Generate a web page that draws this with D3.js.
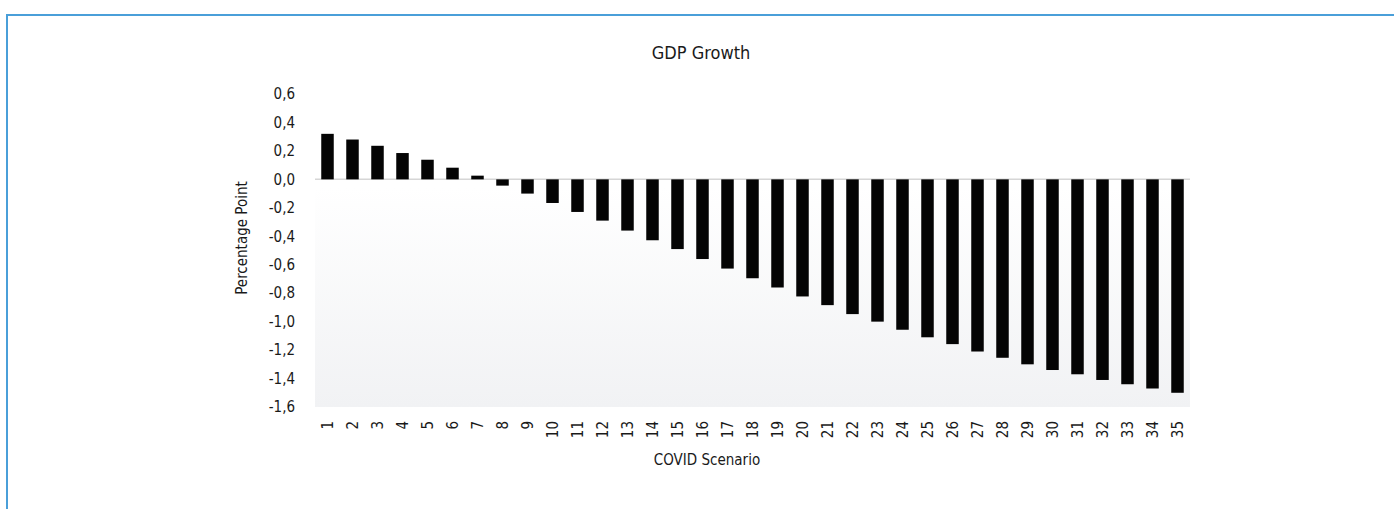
<!DOCTYPE html>
<html>
<head>
<meta charset="utf-8">
<script src="https://cdn.jsdelivr.net/npm/d3@7"></script>
<style>
  body { margin: 0; background: #fff; }
  svg text { font-family: "Liberation Sans Narrow", "DejaVu Sans Condensed", "Arial Narrow", sans-serif; fill: #1a1a1a; }
</style>
</head>
<body>
<div id="chart"></div>
<script>
// chart data
var scenarios = d3.range(1, 36).map(String);
var gdpGrowth = [0.32, 0.28, 0.236, 0.185, 0.138, 0.082, 0.026, -0.044, -0.10, -0.166,
  -0.229, -0.29, -0.36, -0.428, -0.49, -0.56, -0.627, -0.695, -0.76, -0.823,
  -0.884, -0.947, -1.0, -1.057, -1.11, -1.158, -1.21, -1.254, -1.30, -1.34,
  -1.37, -1.41, -1.44, -1.47, -1.50];
var yTicks = [0.6, 0.4, 0.2, 0.0, -0.2, -0.4, -0.6, -0.8, -1.0, -1.2, -1.4, -1.6];

var svgWidth = 1394;
var svgHeight = 509;

var margin = {
  top: 94,
  right: 204,
  bottom: 102,
  left: 315
};

var width = svgWidth - margin.left - margin.right;
var height = svgHeight - margin.top - margin.bottom;

var svg = d3.select("#chart")
  .append("svg")
  .attr("width", svgWidth)
  .attr("height", svgHeight);

// blue frame around the figure
svg.append("rect")
  .attr("x", 7)
  .attr("y", 15)
  .attr("width", svgWidth + 20)
  .attr("height", svgHeight + 20)
  .attr("fill", "none")
  .attr("stroke", "#4a9fd9")
  .attr("stroke-width", 2);

// plot background gradient
var defs = svg.append("defs");
var grad = defs.append("linearGradient")
  .attr("id", "plotBg")
  .attr("x1", 0).attr("y1", 0)
  .attr("x2", 0).attr("y2", 1);
grad.append("stop").attr("offset", "0%").attr("stop-color", "#ffffff");
grad.append("stop").attr("offset", "30%").attr("stop-color", "#ffffff");
grad.append("stop").attr("offset", "100%").attr("stop-color", "#f1f2f4");

var chartGroup = svg.append("g")
  .attr("transform", `translate(${margin.left}, ${margin.top})`);

var xScale = d3.scaleBand()
  .domain(scenarios)
  .range([0, width])
  .paddingInner(0.5)
  .paddingOuter(0.25);

var yScale = d3.scaleLinear()
  .domain([-1.6, 0.6])
  .range([height, 0]);

chartGroup.append("rect")
  .attr("x", 0)
  .attr("y", 0)
  .attr("width", width)
  .attr("height", height)
  .attr("fill", "url(#plotBg)");

// zero line
chartGroup.append("line")
  .attr("x1", 0)
  .attr("x2", width)
  .attr("y1", yScale(0))
  .attr("y2", yScale(0))
  .attr("stroke", "#d6d6d6")
  .attr("stroke-width", 1.5);

// bars
chartGroup.selectAll(".bar")
  .data(gdpGrowth)
  .enter()
  .append("rect")
  .attr("class", "bar")
  .attr("x", (d, i) => xScale(scenarios[i]))
  .attr("width", xScale.bandwidth())
  .attr("y", d => yScale(Math.max(0, d)))
  .attr("height", d => Math.abs(yScale(d) - yScale(0)))
  .attr("fill", "#040404");

// y axis
var leftAxis = d3.axisLeft(yScale)
  .tickValues(yTicks)
  .tickSize(0)
  .tickPadding(20)
  .tickFormat(d => d3.format(".1f")(d).replace(".", ",").replace("−", "-"));

var yAxis = chartGroup.append("g").call(leftAxis);
yAxis.select(".domain").remove();
yAxis.selectAll("text")
  .attr("font-size", "15px")
  .attr("fill", "#1a1a1a");

// x axis with rotated labels
var bottomAxis = d3.axisBottom(xScale).tickSize(0);
var xAxis = chartGroup.append("g")
  .attr("transform", `translate(0, ${height})`)
  .call(bottomAxis);
xAxis.select(".domain").remove();
xAxis.selectAll("text")
  .attr("font-size", "15px")
  .attr("fill", "#1a1a1a")
  .attr("text-anchor", "end")
  .attr("transform", "rotate(-90)")
  .attr("x", -14)
  .attr("y", 0)
  .attr("dy", "0.35em");

// title
svg.append("text")
  .attr("x", 701)
  .attr("y", 59)
  .attr("text-anchor", "middle")
  .attr("font-size", "18px")
  .text("GDP Growth");

// axis titles
svg.append("text")
  .attr("x", 707)
  .attr("y", 465)
  .attr("text-anchor", "middle")
  .attr("font-size", "15px")
  .text("COVID Scenario");

svg.append("text")
  .attr("transform", "translate(242, 238) rotate(-90)")
  .attr("text-anchor", "middle")
  .attr("dy", "0.35em")
  .attr("font-size", "15px")
  .text("Percentage Point");
</script>
</body>
</html>
